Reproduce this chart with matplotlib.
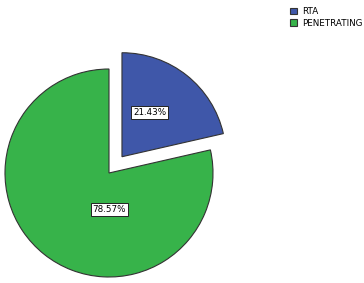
import matplotlib.pyplot as plt

categories = ['RTA', 'PENETRATING']
percents = [21.43, 78.57]
colors = ['#3F57A9', '#37B34A']

fig = plt.figure(figsize=(3.64, 2.83), dpi=100)
ax = fig.add_axes([0, 0, 1, 1])

wedges, _ = ax.pie(percents, colors=colors, startangle=90, counterclock=False,
                   explode=[0.2, 0], radius=1,
                   wedgeprops=dict(edgecolor='#333333', linewidth=0.8))

# percentage boxes
box = dict(boxstyle='square,pad=0.2', facecolor='white', edgecolor='#222222', linewidth=0.7)
label_pos = [(0.39, 0.58), (0.0, -0.35)]
for (x, y), p in zip(label_pos, percents):
    ax.text(x, y, f'{p:.2f}%', ha='center', va='center', fontsize=6.3, bbox=box)

ax.set_xlim(-109 / 104, (364 - 109) / 104)
ax.set_ylim(-(283 - 173) / 104, 173 / 104)
ax.set_aspect('auto')
ax.axis('off')

leg = fig.legend(wedges, categories, loc='upper left', bbox_to_anchor=(290 / 364, 1 - 7 / 283),
                 frameon=False, fontsize=6.3, handlelength=0.8, handleheight=0.8,
                 handletextpad=0.55, labelspacing=0.3, borderpad=0, borderaxespad=0)

fig.savefig('out.png', dpi=100)
